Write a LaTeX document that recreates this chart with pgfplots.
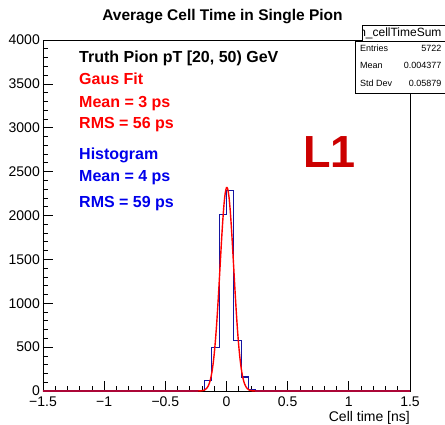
\documentclass[border=0pt]{standalone}
\usepackage{fontspec}
\setmainfont{Liberation Sans}
\usepackage{pgfplots}
\pgfplotsset{compat=1.18}
\definecolor{histblue}{RGB}{20,20,160}
\definecolor{txtblue}{RGB}{0,0,235}
\definecolor{txtred}{RGB}{255,0,0}
\definecolor{lone}{RGB}{204,0,0}
\begin{document}
\begin{tikzpicture}[x=1pt,y=1pt]
\path[use as bounding box] (0,0) rectangle (445,425);
\begin{axis}[
  at={(43pt,34pt)}, anchor=south west,
  scale only axis, width=367pt, height=351pt,
  xmin=-1.5, xmax=1.5, ymin=0, ymax=4000,
  xtick={-1.5,-1,-0.5,0,0.5,1,1.5},
  xticklabels={−1.5,−1,−0.5,0,0.5,1,1.5},
  ytick={0,500,...,4000},
  minor x tick num=4, minor y tick num=4,
  tick align=inside, tick pos=left,
  major tick length=10pt, minor tick length=5pt,
  scaled y ticks=false,
  /pgf/number format/assume math mode=true,
  /pgf/number format/1000 sep={},
  tick label style={font=\fontsize{14}{16}\selectfont},
  yticklabel style={inner sep=0pt, xshift=-3pt},
  xticklabel style={inner sep=0pt, yshift=-6pt},
  axis line style={line width=0.8pt},
  every tick/.style={black, line width=0.7pt},
  clip=false,
]
\addplot[const plot mark left, color=histblue, line width=1.1pt] coordinates {
(-1.5,0) (-0.24,8) (-0.18,118) (-0.12,495) (-0.06,2015) (0,2285) (0.06,575) (0.12,160) (0.18,20) (0.24,0) (1.5,0)
};
\addplot[color=red, line width=1.4pt, smooth] coordinates {
(-1.5,0) (-0.30,0) (-0.25,0.1) (-0.24,0.2) (-0.23,0.4) (-0.22,0.8) (-0.21,1.7) (-0.20,3.3) (-0.19,6.1) (-0.18,11.1) (-0.17,19.6) (-0.16,33.6) (-0.15,55.6) (-0.14,89.0) (-0.13,138.3) (-0.12,208) (-0.11,303) (-0.10,428) (-0.09,584) (-0.08,773) (-0.07,992) (-0.06,1232) (-0.05,1482) (-0.04,1728) (-0.03,1950) (-0.02,2132) (-0.01,2258) (0.00,2317) (0.01,2302) (0.02,2216) (0.03,2066) (0.04,1865) (0.05,1631) (0.06,1382) (0.07,1134) (0.08,902) (0.09,694) (0.10,518) (0.11,374) (0.12,261) (0.13,177) (0.14,116) (0.15,74) (0.16,45.6) (0.17,27.2) (0.18,15.7) (0.19,8.8) (0.20,4.8) (0.21,2.5) (0.22,1.3) (0.23,0.6) (0.24,0.3) (0.25,0.1) (0.30,0) (1.5,0)
};
\end{axis}
% title
\node[anchor=base, inner sep=0pt, font=\bfseries\fontsize{15.5}{18}\selectfont] at (222.5,404) {Average Cell Time in Single Pion};
% x label
\node[anchor=base east, inner sep=0pt, font=\fontsize{14}{16}\selectfont] at (410,3.5) {Cell time [ns]};
% annotations
\begin{scope}[every node/.style={anchor=base west, inner sep=0pt, font=\bfseries\fontsize{16}{19}\selectfont}]
\node at (79,362.7) {Truth Pion pT [20, 50) GeV};
\node[text=txtred] at (79,340) {Gaus Fit};
\node[text=txtred] at (79,317.3) {Mean = 3 ps};
\node[text=txtred] at (79,296.7) {RMS = 56 ps};
\node[text=txtblue] at (79,265.7) {Histogram};
\node[text=txtblue] at (79,243.3) {Mean = 4 ps};
\node[text=txtblue] at (79,217.3) {RMS = 59 ps};
\end{scope}
\node[anchor=base west, inner sep=0pt, text=lone, font=\bfseries\fontsize{45}{50}\selectfont] at (303,257.3) {L1};
% stats box
\fill[white] (355,331.7) rectangle (445,383.3);
\fill[white] (362,383.3) rectangle (445,400);
\draw[line width=0.8pt] (445,400) -- (362,400) -- (362,383.3);
\draw[line width=0.8pt] (445,383.3) -- (355,383.3) -- (355,331.7) -- (445,331.7);
\begin{scope}
\clip (363,383.3) rectangle (445,400);
\node[anchor=base east, inner sep=0pt, font=\fontsize{12}{13}\selectfont] at (441.7,388.3) {h\_cellTimeSum};
\end{scope}
\begin{scope}[every node/.style={inner sep=0pt, font=\fontsize{9}{10}\selectfont}]
\node[anchor=base west] at (360,373.3) {Entries};
\node[anchor=base east] at (441.7,373.3) {5722};
\node[anchor=base west] at (360,356.7) {Mean};
\node[anchor=base east] at (441.7,356.7) {0.004377};
\node[anchor=base west] at (360,338.3) {Std Dev};
\node[anchor=base east] at (441.7,338.3) {0.05879};
\end{scope}
\end{tikzpicture}
\end{document}
